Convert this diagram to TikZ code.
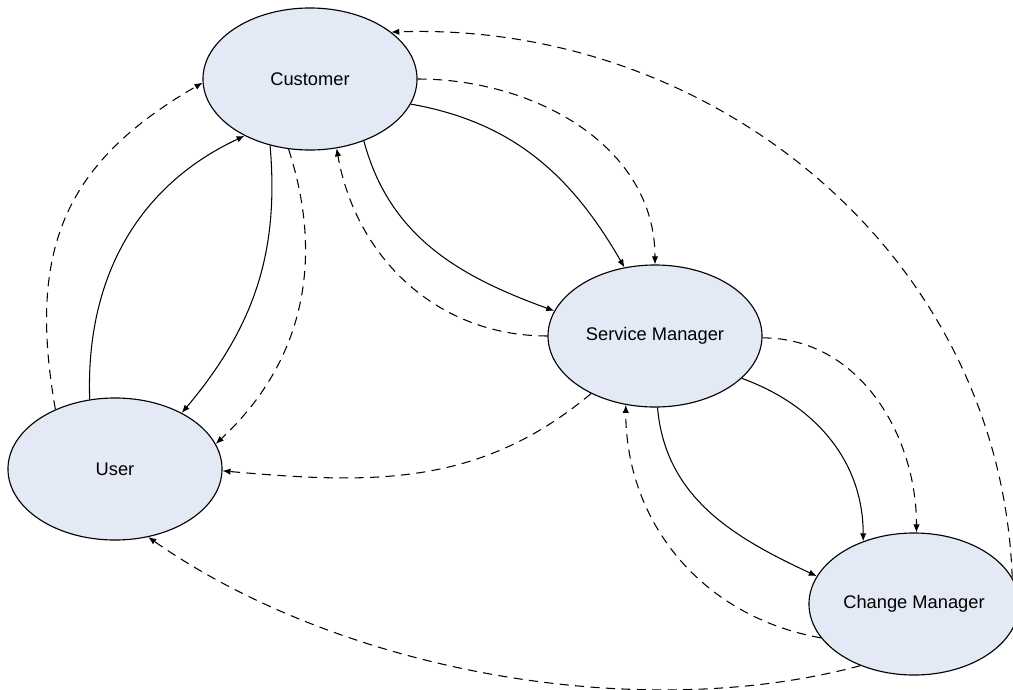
\documentclass[tikz,border=0pt]{standalone}
\usepackage{fontspec}
\setmainfont{Liberation Sans}
\usetikzlibrary{shapes.geometric,arrows.meta}
\definecolor{roleFill}{RGB}{228,233,246}
\newcommand{\RoleMapUnit}{0.025}
\tikzset{
	role/.style={ellipse, draw, line width=0.8pt, fill=roleFill, inner sep=0pt,
		minimum width=5.35cm, minimum height=3.55cm, font=\fontsize{13}{15}\selectfont},
	flow/.style={-{Latex[length=2mm,width=1.6mm]}, line width=0.75pt},
	info/.style={flow, dash pattern=on 6.5pt off 4.5pt},
}

\begin{document}
\begin{tikzpicture}[x=\RoleMapUnit cm, y=\RoleMapUnit cm]
		\useasboundingbox (0,0) rectangle (1013,-690);
		\node[role] (customer) at (310,-79) {Customer};
		\node[role] (user) at (115,-469) {User};
		\node[role] (service) at (655,-336) {Service Manager};
		\node[role, minimum width=5.25cm] (change) at (914,-604) {Change Manager};
		\draw[flow] (customer.-14) to[out=-10, in=120] (service.114);
		\draw[info] (customer.0) to[out=0, in=90] (service.90);
		\draw[flow] (customer.-49) to[out=-75, in=160] (service.166);
		\draw[info] (service.180) to[out=180, in=-80] (customer.-69);
		\draw[flow] (customer.-121) to[out=-85, in=50] (user.40);
		\draw[info] (customer.-107) to[out=-72, in=43] (user.14);
		\draw[flow] (user.110) to[out=92, in=-155] (customer.-139);
		\draw[info] (user.135) to[out=100, in=-150, looseness=1.15] (customer.182);
		\draw[info] (service.-138) to[out=-140, in=-5] (user.-1);
		\draw[info] (change.-131) to[out=-165, in=-35, looseness=0.82] (user.-64);
		\draw[info] (change.15) to[out=92, in=2] (customer.30);
		\draw[info] (service.-1) to[out=0, in=90] (change.88);
		\draw[flow] (service.-26) to[out=-20, in=90] (change.129);
		\draw[flow] (service.-88) to[out=-85, in=155] (change.164);
		\draw[info] (change.-160) to[out=170, in=-90] (service.-113);
	\end{tikzpicture}
\end{document}
